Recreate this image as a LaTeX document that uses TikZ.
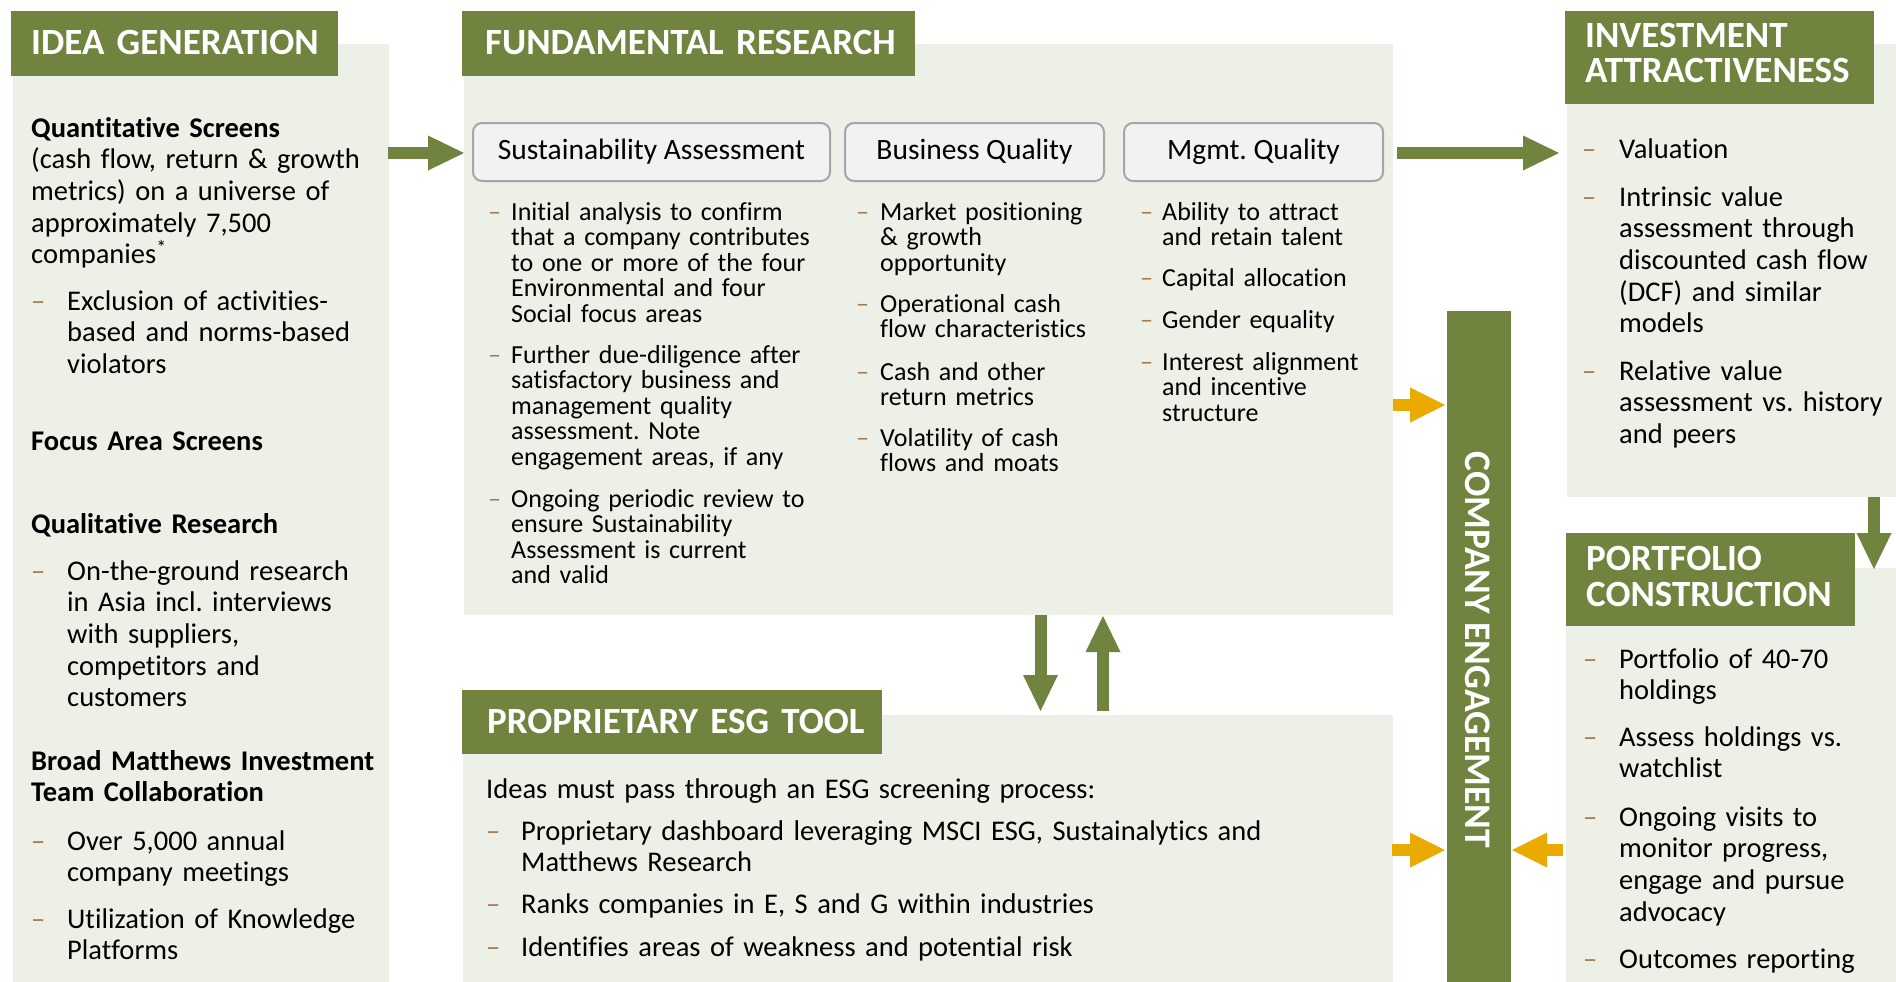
\documentclass[tikz,border=0pt]{standalone}
\usepackage{fontspec}
\setmainfont{Carlito}[Ligatures={TeX,NoCommon}]
\usetikzlibrary{arrows.meta}
\definecolor{hdgreen}{HTML}{71843F}
\definecolor{panelbg}{HTML}{EDF0E6}
\definecolor{dashc}{HTML}{A87B4F}
\definecolor{ylw}{HTML}{EBAA00}
\definecolor{boxfill}{HTML}{F2F2F2}
\definecolor{boxline}{HTML}{A6A6A6}
\frenchspacing
\tikzset{
  panel/.style={fill=panelbg, draw=none, anchor=north west, inner sep=0pt, outer sep=0pt},
  header/.style={fill=hdgreen, draw=none, anchor=north west, inner sep=0pt, outer sep=0pt},
  hdtext/.style={text=white, font=\fontsize{37}{35}\selectfont\bfseries, anchor=base west, inner sep=0pt, align=left, text width=420pt},
  btxt/.style={font=\fontsize{28.5}{31.7}\selectfont\frenchspacing, anchor=base west, inner sep=0pt, align=left, text width=820pt},
  stxt/.style={font=\fontsize{26}{25.5}\selectfont\frenchspacing, anchor=base west, inner sep=0pt, align=left, text width=380pt},
  dmarkB/.style={font=\fontsize{28.5}{31.7}\selectfont, text=dashc, anchor=base west, inner sep=0pt},
  dmarkS/.style={font=\fontsize{26}{25.5}\selectfont, text=dashc, anchor=base west, inner sep=0pt},
  subbox/.style={fill=boxfill, draw=boxline, line width=2pt, rounded corners=9pt, font=\fontsize{29.5}{32}\selectfont, inner sep=0pt},
  garrow/.style={draw=hdgreen, line width=12pt, -{Triangle[length=36pt, width=35pt, line width=0pt]}},
  yarrow/.style={draw=ylw, line width=12pt, -{Triangle[length=35pt, width=35pt, line width=0pt]}},
}
\newcommand\bulB[5]{\node[dmarkB] (#1d) at (#2,#4) {--};\node[btxt] (#1) at (#3,#4) {#5};}
\newcommand\bulS[5]{\node[dmarkS] (#1d) at (#2,#4) {--};\node[stxt] (#1) at (#3,#4) {#5};}
\begin{document}
\begin{tikzpicture}[x=1pt,y=-1pt]
\useasboundingbox (0,0) rectangle (1896,982);
% panels
\node[panel, minimum width=376pt, minimum height=938pt] (ideabg) at (13,44) {};
\node[header, minimum width=327pt, minimum height=65pt] (ideahd) at (11,11) {};
\node[panel, minimum width=929pt, minimum height=571pt] (fundbg) at (464,44) {};
\node[header, minimum width=453pt, minimum height=65pt] (fundhd) at (462,11) {};
\node[panel, minimum width=930pt, minimum height=267pt] (esgbg) at (463,715) {};
\node[header, minimum width=420pt, minimum height=64pt] (esghd) at (462,690) {};
\node[panel, minimum width=329pt, minimum height=453pt] (invbg) at (1567,44) {};
\node[header, minimum width=309pt, minimum height=93pt] (invhd) at (1565,11) {};
\node[panel, minimum width=330pt, minimum height=414pt] (portbg) at (1566,568) {};
\node[header, minimum width=289pt, minimum height=93pt] (porthd) at (1566,533) {};
\node[header, minimum width=64pt, minimum height=671pt] (compbar) at (1447,311) {};
% header texts
\node[hdtext] (ideat) at (31,55) {IDEA GENERATION};
\node[hdtext] (fundt) at (485,55) {FUNDAMENTAL RESEARCH};
\node[hdtext] (esgt) at (487,733) {PROPRIETARY ESG TOOL};
\node[hdtext] (invt) at (1585,48) {INVESTMENT\\ATTRACTIVENESS};
\node[hdtext, font=\fontsize{37}{36}\selectfont\bfseries] (portt) at (1586,570) {PORTFOLIO\\CONSTRUCTION};
\node[text=white, font=\fontsize{37.5}{37.5}\selectfont\bfseries, rotate=-90, inner sep=0pt] (compt) at (1478,650) {COMPANY ENGAGEMENT};
% idea generation
\node[btxt] (qs) at (31,137) {\textbf{Quantitative Screens}\\(cash flow, return \& growth\\metrics) on a universe of\\approximately 7,500\\companies\textsuperscript{*}};
\bulB{qs1}{31}{67}{310}{Exclusion of activities-\\based and norms-based\\violators}
\node[btxt] (fa) at (31,450) {\textbf{Focus Area Screens}};
\node[btxt] (qr) at (31,533) {\textbf{Qualitative Research}};
\bulB{qr1}{31}{67}{580}{On-the-ground research\\in Asia incl. interviews\\with suppliers,\\competitors and\\customers}
\node[btxt] (bm) at (31,770) {\bfseries Broad Matthews Investment\\Team Collaboration};
\bulB{bm1}{31}{67}{850}{Over 5,000 annual\\company meetings}
\bulB{bm2}{31}{67}{928}{Utilization of Knowledge\\Platforms}
% fundamental research sub boxes
\node[subbox, minimum width=357pt, minimum height=58pt] (sab) at (651.5,152) {Sustainability Assessment};
\node[subbox, minimum width=259pt, minimum height=58pt] (bqb) at (974.5,152) {Business Quality};
\node[subbox, minimum width=259pt, minimum height=58pt] (mqb) at (1253.5,152) {Mgmt. Quality};
\bulS{s1}{488}{511}{220}{Initial analysis to confirm\\that a company contributes\\to one or more of the four\\Environmental and four\\Social focus areas}
\bulS{s2}{488}{511}{363}{Further due-diligence after\\satisfactory business and\\management quality\\assessment. Note\\engagement areas, if any}
\bulS{s3}{488}{511}{507}{Ongoing periodic review to\\ensure Sustainability\\Assessment is current\\and valid}
\bulS{b1}{856}{880}{220}{Market positioning\\\& growth\\opportunity}
\bulS{b2}{856}{880}{312}{Operational cash\\flow characteristics}
\bulS{b3}{856}{880}{380}{Cash and other\\return metrics}
\bulS{b4}{856}{880}{446}{Volatility of cash\\flows and moats}
\bulS{m1}{1140}{1162}{220}{Ability to attract\\and retain talent}
\bulS{m2}{1140}{1162}{286}{Capital allocation}
\bulS{m3}{1140}{1162}{328}{Gender equality}
\bulS{m4}{1140}{1162}{370}{Interest alignment\\and incentive\\structure}
% investment attractiveness
\bulB{i1}{1582}{1619}{158}{Valuation}
\bulB{i2}{1582}{1619}{206}{Intrinsic value\\assessment through\\discounted cash flow\\(DCF) and similar\\models}
\bulB{i3}{1582}{1619}{380}{Relative value\\assessment vs. history\\and peers}
% portfolio construction
\bulB{p1}{1583}{1619}{668}{Portfolio of 40-70\\holdings}
\bulB{p2}{1583}{1619}{746}{Assess holdings vs.\\watchlist}
\bulB{p3}{1583}{1619}{826}{Ongoing visits to\\monitor progress,\\engage and pursue\\advocacy}
\bulB{p4}{1583}{1619}{968}{Outcomes reporting}
% ESG tool
\node[btxt] (e0) at (486,798) {Ideas must pass through an ESG screening process:};
\bulB{e1}{486}{521}{840}{Proprietary dashboard leveraging MSCI ESG, Sustainalytics and\\Matthews Research}
\bulB{e2}{486}{521}{913}{Ranks companies in E, S and G within industries}
\bulB{e3}{486}{521}{956}{Identifies areas of weakness and potential risk}
% arrow end points
\coordinate (a1s) at (388,153);
\coordinate (a1e) at (464,153);
\coordinate (a2s) at (1397,153);
\coordinate (a2e) at (1559,153);
\coordinate (a3s) at (1874,497);
\coordinate (a3e) at (1874,569);
\coordinate (a4s) at (1040.5,615);
\coordinate (a4e) at (1040.5,711);
\coordinate (a5s) at (1103,711);
\coordinate (a5e) at (1103,616);
\coordinate (y1s) at (1393,405);
\coordinate (y1e) at (1445,405);
\coordinate (y2s) at (1392,850);
\coordinate (y2e) at (1445,850);
\coordinate (y3s) at (1563,850);
\coordinate (y3e) at (1512,850);
\draw[garrow] (a1s) -- (a1e);
\draw[garrow] (a2s) -- (a2e);
\draw[garrow] (a3s) -- (a3e);
\draw[garrow] (a4s) -- (a4e);
\draw[garrow] (a5s) -- (a5e);
\draw[yarrow] (y1s) -- (y1e);
\draw[yarrow] (y2s) -- (y2e);
\draw[yarrow] (y3s) -- (y3e);
\end{tikzpicture}
\end{document}
